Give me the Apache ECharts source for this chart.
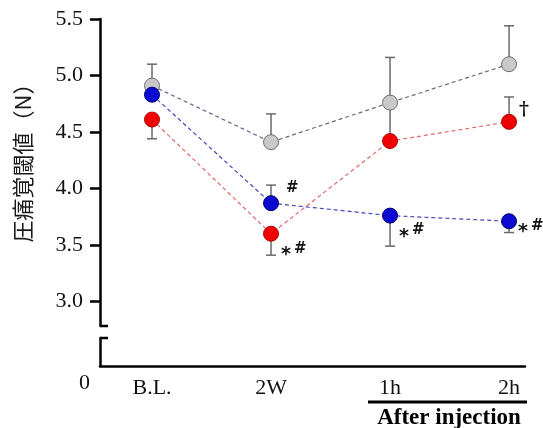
<!DOCTYPE html>
<html>
<head>
<meta charset="utf-8">
<script src="https://cdn.jsdelivr.net/npm/echarts@6/dist/echarts.min.js"></script>
<style>
	html, body { margin: 0; padding: 0; background: #fff; }
	#main { width: 543px; height: 428px; }
</style>
</head>
<body>
<div id="main"></div>
<script>
	var categories = ['B.L.', '2W', '1h', '2h'];
	var yTicks = [3.0, 3.5, 4.0, 4.5, 5.0, 5.5];

	var grayValues = [4.91, 4.41, 4.76, 5.10];
	var grayErrEnd = [5.10, 4.66, 5.16, 5.44];
	var redValues  = [4.61, 3.60, 4.42, 4.59];
	var redErrEnd  = [4.44, 3.41, 4.76, 4.81];
	var blueValues = [4.83, 3.87, 3.76, 3.71];
	var blueErrEnd = [null, 4.03, 3.49, 3.61];

	var redMarks  = ['', '*#', '', '†'];
	var blueMarks = ['', '#', '*#', '*#'];

	var serif = '"Liberation Serif", "Times New Roman", serif';

	// label offsets for the significance marks (x, y from the right side of the dot)
	var markOffsets = {
		red:  [null, [2, 17], null, [2, -12]],
		blue: [null, [7, -13], [1, 17], [1, 7]]
	};

	function markText(s) {
		if (s === '*#') return '{s|*}{h|#}';
		if (s === '#') return '{h|#}';
		return '{d|' + s + '}';
	}

	function buildData(vals, marks, offs) {
		return vals.map(function (v, i) {
			var item = { value: [i, v] };
			if (marks[i]) {
				item.label = {
					show: true,
					position: 'right',
					distance: 0,
					offset: offs[i],
					formatter: markText(marks[i]),
					rich: {
						s: { fontSize: 19, fontWeight: 'bold', fontFamily: 'DejaVu Sans', color: '#111', padding: [8, 3, 0, 0] },
						h: { fontSize: 15, fontWeight: 'bold', fontFamily: 'DejaVu Sans', color: '#111', padding: [0, 0, 4, 0] },
						d: { fontSize: 19, fontWeight: 'bold', fontFamily: 'DejaVu Serif', color: '#111' }
					}
				};
			}
			return item;
		});
	}

	var errData = [];
	function addErr(vals, ends) {
		vals.forEach(function (v, i) {
			if (ends[i] != null) errData.push([i, v, ends[i]]);
		});
	}
	addErr(grayValues, grayErrEnd);
	addErr(redValues, redErrEnd);
	addErr(blueValues, blueErrEnd);

	function renderErr(params, api) {
		var x = api.value(0), v = api.value(1), e = api.value(2);
		var p0 = api.coord([x, v]), p1 = api.coord([x, e]);
		var st = { stroke: '#6a6a6a', lineWidth: 1.5 };
		return {
			type: 'group',
			children: [
				{ type: 'line', shape: { x1: p0[0], y1: p0[1], x2: p1[0], y2: p1[1] }, style: st },
				{ type: 'line', shape: { x1: p1[0] - 5, y1: p1[1], x2: p1[0] + 5, y2: p1[1] }, style: st }
			]
		};
	}

	var axisBlack = { show: true, onZero: false, lineStyle: { color: '#000', width: 2.5 } };

	var myChart = echarts.init(document.getElementById('main'));
	var option = {
		animation: false,
		backgroundColor: '#fff',
		grid: [
			{ left: 100, right: 18, top: 19, height: 307 },
			{ left: 100, right: 18, top: 338, height: 28 }
		],
		xAxis: [
			{ type: 'value', gridIndex: 0, min: -0.437, max: 3.134, show: false },
			{
				type: 'value', gridIndex: 1, min: -0.437, max: 3.134,
				axisLine: axisBlack,
				axisTick: { show: false },
				splitLine: { show: false },
				axisLabel: {
					customValues: [0, 1, 2, 3],
					formatter: function (v) { return categories[Math.round(v)]; },
					margin: 11,
					fontFamily: serif, fontSize: 22, color: '#111'
				}
			}
		],
		yAxis: [
			{
				type: 'value', gridIndex: 0, min: 2.783, max: 5.5,
				name: '圧痛覚閾値（N）',
				nameLocation: 'middle',
				nameRotate: 90,
				nameGap: 66,
				nameTextStyle: { fontFamily: '"Noto Sans CJK JP"', fontSize: 22, color: '#1a1a1a', padding: [0, 0, 0, 30] },
				axisLine: axisBlack,
				axisTick: { customValues: yTicks, length: 10, lineStyle: { color: '#000', width: 2.5 } },
				splitLine: { show: false },
				axisLabel: {
					customValues: yTicks,
					formatter: function (v) { return v.toFixed(1); },
					margin: 17,
					fontFamily: serif, fontSize: 22, color: '#111'
				}
			},
			{
				type: 'value', gridIndex: 1, min: 0, max: 1,
				axisLine: axisBlack,
				axisTick: { show: false },
				splitLine: { show: false },
				axisLabel: {
					customValues: [0],
					margin: 10,
					verticalAlign: 'top',
					padding: [6, 0, 0, 0],
					fontFamily: serif, fontSize: 22, color: '#111'
				}
			}
		],
		series: [
			{
				type: 'custom',
				xAxisIndex: 0, yAxisIndex: 0,
				renderItem: renderErr,
				data: errData,
				z: 1
			},
			{
				name: 'gray', type: 'line', xAxisIndex: 0, yAxisIndex: 0,
				data: buildData(grayValues, ['', '', '', ''], [null, null, null, null]),
				symbol: 'circle', symbolSize: 15,
				itemStyle: { color: '#c9c9c9', borderColor: '#6e6e6e', borderWidth: 1 },
				lineStyle: { color: '#6a6a86', width: 1.2, type: [4, 3] },
				z: 2
			},
			{
				name: 'red', type: 'line', xAxisIndex: 0, yAxisIndex: 0,
				data: buildData(redValues, redMarks, markOffsets.red),
				symbol: 'circle', symbolSize: 15,
				itemStyle: { color: '#f00000', borderColor: '#b00000', borderWidth: 1 },
				lineStyle: { color: '#e06a6a', width: 1.2, type: [4, 3] },
				z: 3
			},
			{
				name: 'blue', type: 'line', xAxisIndex: 0, yAxisIndex: 0,
				data: buildData(blueValues, blueMarks, markOffsets.blue),
				symbol: 'circle', symbolSize: 15,
				itemStyle: { color: '#0a0ad0', borderColor: '#000070', borderWidth: 1 },
				lineStyle: { color: '#4646b8', width: 1.2, type: [4, 3] },
				z: 4
			}
		],
		graphic: [
			// axis break caps
			{ type: 'line', shape: { x1: 100, y1: 326, x2: 108, y2: 326 }, style: { stroke: '#000', lineWidth: 2.5 } },
			{ type: 'line', shape: { x1: 100, y1: 338, x2: 108, y2: 338 }, style: { stroke: '#000', lineWidth: 2.5 } },
			// After injection bracket
			{ type: 'line', shape: { x1: 368, y1: 402, x2: 527, y2: 402 }, style: { stroke: '#000', lineWidth: 3 } },
			{
				type: 'text', x: 449, y: 418,
				style: {
					text: 'After injection', align: 'center', verticalAlign: 'middle',
					font: 'bold 23px "Liberation Serif", serif', fill: '#000'
				}
			}
		]
	};
	myChart.setOption(option);
</script>
</body>
</html>
